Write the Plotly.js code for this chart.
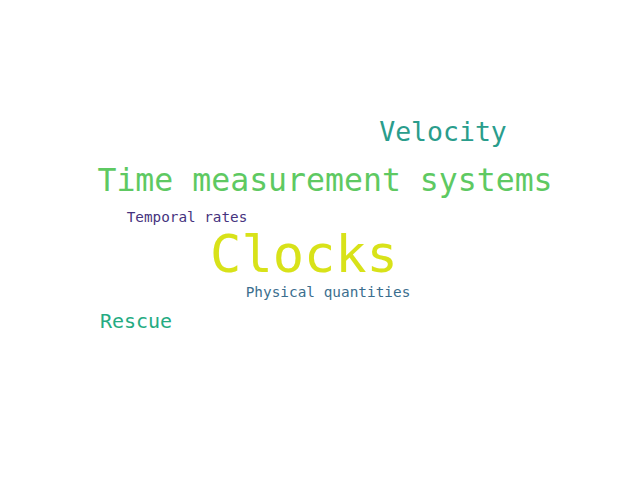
<!DOCTYPE html>
<html>
<head>
<meta charset="utf-8">
<script src="https://cdn.plot.ly/plotly-3.0.1.min.js"></script>
<style>html,body{margin:0;padding:0;background:#fff}#chart{width:640px;height:480px}</style>
</head>
<body>
<div id="chart"></div>
<script>
// word cloud: words, weights (font size), colours and placement
const words = ['Clocks', 'Time measurement systems', 'Velocity', 'Rescue', 'Physical quantities', 'Temporal rates'];
const sizes = [52, 31.5, 26.5, 20, 14.4, 14.3];
const colors = ['#d8e219', '#5ec962', '#2a9d8c', '#25ab82', '#3b6e8e', '#46337e'];
const xs = [304, 325, 443, 136, 328, 187];
const ys = [259, 183, 134, 323, 293, 218];

const trace = {
    x: xs,
    y: ys,
    text: words,
    mode: 'text',
    textposition: 'middle center',
    textfont: {
        family: 'DejaVu Sans Mono',
        size: sizes,
        color: colors
    },
    hoverinfo: 'none'
};

const layout = {
    width: 640,
    height: 480,
    margin: { t: 0, r: 0, l: 0, b: 0 },
    paper_bgcolor: '#ffffff',
    plot_bgcolor: '#ffffff',
    showlegend: false,
    xaxis: { range: [0, 640], visible: false, fixedrange: true },
    yaxis: { range: [480, 0], visible: false, fixedrange: true }
};

Plotly.newPlot('chart', [trace], layout, { displayModeBar: false, staticPlot: true });
</script>
</body>
</html>
